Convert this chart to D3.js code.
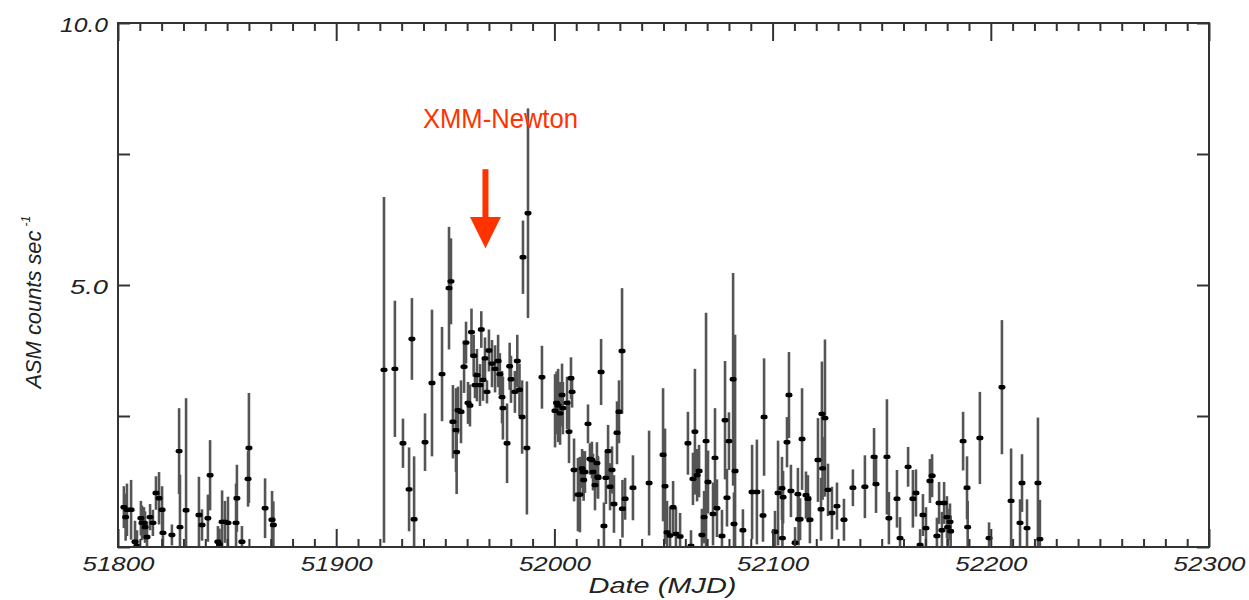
<!DOCTYPE html>
<html>
<head>
<meta charset="utf-8">
<script src="https://cdn.jsdelivr.net/npm/d3@7"></script>
<style>
  body { margin: 0; background: #fff; }
  text { font-family: "Liberation Sans", Arial, sans-serif; }
</style>
</head>
<body>
<svg id="chart"></svg>
<script>
// ASM light curve, MJD 51800-52300

const mjd = [
  51802.7, 51803.5, 51804.1, 51806.0, 51807.8, 51808.7, 51810.5, 51811.0, 51811.9, 51812.4,
  51813.3, 51814.7, 51816.0, 51817.4, 51818.8, 51820.2, 51820.6, 51824.7, 51828.0, 51828.4,
  51831.2, 51837.1, 51838.5, 51841.2, 51842.2, 51845.8, 51846.5, 51847.7, 51849.0, 51850.4,
  51854.1, 51854.5, 51856.8, 51859.6, 51860.0, 51867.4, 51870.6, 51871.2,
  51921.9, 51926.9, 51930.6, 51933.4, 51934.7, 51935.7, 51940.7, 51943.9, 51948.5, 51951.7,
  51952.6, 51953.5, 51954.9, 51955.2, 51955.8, 51957.2, 51958.6, 51960.4, 51961.3, 51963.6,
  51964.5, 51965.9, 51967.3, 51969.1, 51976.0, 51976.4, 51978.3, 51981.9, 51985.2, 51985.6,
  51987.4, 51987.9, 51994.3, 52000.3, 52001.0, 52001.7, 52002.6, 52003.5, 52003.9, 52005.8,
  52006.7, 52007.6, 52008.1, 52009.0, 52010.8,
  51959.5, 51962.0, 51963.0, 51966.5, 51968.2, 51970.0, 51971.4, 51972.8, 51974.2, 51975.0,
  51979.5, 51980.1, 51983.0, 51984.0,
  52011.7, 52012.7, 52013.1, 52013.4, 52014.0, 52015.4, 52016.3, 52017.2, 52017.7, 52018.6,
  52019.5, 52019.9, 52020.0, 52021.4, 52022.7, 52023.6, 52024.6, 52025.5, 52026.4, 52027.3,
  52028.7, 52029.6, 52031.0, 52031.2, 52032.4, 52036.0, 52043.4, 52049.8, 52050.7, 52051.6,
  52053.0, 52054.4, 52055.7, 52057.6, 52061.2, 52062.6, 52063.5, 52064.4, 52065.4, 52066.3,
  52067.6, 52068.6, 52069.5, 52070.4, 52072.7, 52073.6, 52074.5, 52076.8, 52078.2, 52079.1,
  52080.0, 52081.9, 52082.3, 52082.8, 52086.4, 52090.6, 52092.8,
  52095.6, 52096.1, 52101.1, 52102.5, 52104.3, 52104.5, 52104.8, 52106.6, 52107.5, 52108.4,
  52110.3, 52111.6, 52111.9, 52112.6, 52113.5, 52115.3, 52116.2, 52117.1, 52120.8, 52122.2,
  52122.6, 52122.9, 52124.0, 52125.4, 52127.2, 52129.5, 52132.7, 52136.8, 52142.3, 52146.5,
  52147.4, 52152.4, 52153.3, 52157.0, 52158.4, 52162.1, 52164.3, 52165.7, 52167.6, 52168.9,
  52170.3, 52172.1, 52173.1, 52175.3, 52176.3, 52177.6, 52178.6, 52179.9, 52180.2, 52181.3,
  52181.6, 52187.3, 52189.1, 52189.4, 52195.0, 52199.2, 52205.1, 52209.3, 52213.4, 52214.3,
  52216.6, 52221.6, 52222.5
];

const rate = [
  0.76, 0.57, 0.71, 0.71, 0.10, 0.02, 0.55, 0.46, 0.46, 0.38,
  0.19, 0.57, 0.46, 1.03, 0.93, 0.71, 0.27, 0.23, 1.83, 0.38,
  0.70, 0.61, 0.42, 0.55, 1.37, 0.10, 0.05, 0.48, 0.48, 0.46,
  0.46, 0.93, 0.10, 1.30, 1.89, 0.74, 0.52, 0.42,
  3.38, 3.40, 1.98, 1.10, 3.97, 0.53, 2.00, 3.13, 3.30, 4.94,
  5.07, 2.39, 2.23, 1.81, 2.61, 2.58, 3.44, 2.75, 2.70, 3.09,
  3.28, 3.09, 3.19, 2.96, 2.86, 2.65, 1.98, 2.96, 2.48, 5.53,
  1.89, 6.37, 3.24, 2.60, 2.75, 2.70, 2.55, 2.90, 2.65, 2.75,
  2.20, 3.22, 2.96, 1.47, 1.00,
  3.90, 4.10, 3.65, 4.15, 3.60, 3.75, 3.50, 3.40, 3.55, 3.30,
  3.45, 3.20, 3.55, 3.00,
  1.00, 1.50, 1.43, 1.28, 1.43, 2.35, 1.68, 1.66, 1.43, 1.18,
  1.60, 1.34, 1.32, 3.34, 0.40, 1.32, 1.83, 1.15, 1.47, 0.82,
  2.18, 2.58, 3.74, 0.73, 0.92, 1.13, 1.22, 1.76, 1.16, 0.28,
  0.22, 0.76, 0.25, 0.20, 1.98, 0.02, 1.30, 2.20, 1.37, 1.45,
  0.23, 0.57, 2.02, 1.24, 0.63, 1.70, 0.74, 0.21, 2.42, 0.94,
  2.02, 3.20, 0.44, 1.45, 0.32, 1.05, 1.05,
  0.60, 2.48, 0.29, 1.03, 1.12, 0.17, 0.95, 2.00, 2.90, 1.07,
  0.08, 1.01, 0.53, 0.53, 2.06, 0.99, 0.92, 0.52, 1.66, 0.72,
  2.54, 1.50, 2.46, 1.09, 0.65, 0.78, 0.52, 1.13, 1.15, 1.72,
  1.20, 1.72, 0.55, 0.92, 0.17, 1.53, 0.92, 1.03, 0.04, 0.61,
  0.36, 1.26, 1.36, 0.21, 0.84, 0.32, 0.84, 0.57, 0.38, 0.48,
  0.30, 2.02, 1.13, 0.38, 2.08, 0.17, 3.05, 0.88, 0.46, 1.22,
  0.36, 1.22, 0.15
];

const err = [
  0.40, 0.45, 0.50, 0.57, 0.40, 0.30, 0.33, 0.33, 0.30, 0.30,
  0.30, 0.25, 0.25, 0.32, 0.50, 0.45, 0.40, 0.20, 0.82, 1.00,
  2.14, 0.73, 0.30, 0.45, 0.67, 0.30, 0.30, 0.60, 0.40, 0.50,
  0.75, 0.64, 0.30, 0.53, 1.05, 0.57, 0.55, 0.45,
  3.30, 1.30, 0.47, 0.80, 0.78, 1.20, 0.55, 1.40, 0.90, 1.17,
  0.82, 0.70, 0.80, 0.80, 0.45, 0.60, 0.50, 0.40, 0.40, 0.25,
  0.50, 0.40, 0.40, 0.22, 0.50, 0.60, 0.76, 0.40, 0.70, 0.70,
  1.27, 2.00, 0.60, 0.70, 0.60, 0.70, 0.60, 0.60, 0.50, 0.50,
  0.60, 0.40, 0.30, 0.60, 0.70,
  0.40, 0.45, 0.40, 0.35, 0.40, 0.40, 0.45, 0.45, 0.50, 0.40,
  0.45, 0.45, 0.50, 0.50,
  0.72, 0.37, 0.40, 0.40, 0.40, 0.37, 0.30, 0.35, 0.35, 0.48,
  0.40, 0.40, 0.40, 0.63, 0.45, 0.50, 0.50, 0.45, 0.45, 0.55,
  0.60, 0.60, 1.20, 0.55, 0.40, 0.62, 1.00, 1.27, 1.10, 0.60,
  0.55, 0.50, 0.50, 0.45, 0.60, 0.30, 0.50, 1.20, 0.50, 0.50,
  0.50, 0.50, 2.45, 0.60, 0.60, 0.95, 0.55, 0.50, 1.13, 0.55,
  0.55, 2.03, 0.60, 2.60, 0.40, 0.90, 1.00,
  0.50, 1.12, 0.40, 1.00, 0.60, 0.40, 0.50, 0.48, 0.82, 0.50,
  0.30, 0.50, 0.50, 0.40, 0.97, 0.45, 0.45, 0.45, 0.80, 0.60,
  1.00, 0.60, 1.50, 0.50, 0.50, 0.45, 0.40, 0.35, 0.60, 0.55,
  0.55, 1.10, 0.50, 0.55, 0.40, 0.38, 0.55, 0.45, 0.30, 0.40,
  0.40, 0.42, 0.41, 0.35, 0.40, 0.35, 0.40, 0.40, 0.35, 0.35,
  0.30, 0.56, 0.60, 0.50, 0.88, 0.30, 1.28, 1.00, 0.45, 0.55,
  0.55, 1.25, 0.75
];

const xTickLabels = [51800, 51900, 52000, 52100, 52200, 52300];
const yTickLabels = [5, 10];
const yTicks = [0, 2.5, 5, 7.5, 10];

// XMM-Newton pointing
const xmmDate = 51968.4;
const xmmLabel = "XMM-Newton";

const width = 1249;
const height = 600;
const margin = { left: 118, right: 40, top: 23, bottom: 53 };
const innerWidth = width - margin.left - margin.right;
const innerHeight = height - margin.top - margin.bottom;

const svg = d3.select("#chart")
  .attr("width", width)
  .attr("height", height);

const g = svg.append("g")
  .attr("transform", `translate(${margin.left},${margin.top})`);

const x = d3.scaleLinear().domain([51800, 52300]).range([0, innerWidth]);
const y = d3.scaleLinear().domain([0, 10]).range([innerHeight, 0]);

g.append("clipPath").attr("id", "clip")
  .append("rect").attr("width", innerWidth).attr("height", innerHeight);

const data = mjd.map((d, i) => ({ t: d, v: rate[i], e: err[i] }));

const plot = g.append("g").attr("clip-path", "url(#clip)");

plot.selectAll("line.err")
  .data(data)
  .enter()
  .append("line")
  .attr("class", "err")
  .attr("x1", d => x(d.t))
  .attr("x2", d => x(d.t))
  .attr("y1", d => y(d.v - d.e))
  .attr("y2", d => y(d.v + d.e))
  .attr("stroke", "#555")
  .attr("stroke-width", 2.6);

plot.selectAll("rect.pt")
  .data(data)
  .enter()
  .append("rect")
  .attr("class", "pt")
  .attr("x", d => x(d.t) - 3.5)
  .attr("y", d => y(d.v) - 2.2)
  .attr("width", 7)
  .attr("height", 4.4)
  .attr("rx", 1.8)
  .attr("fill", "#000");

// axes: minor ticks every 10 days, major every 100
const minorX = d3.range(51810, 52300, 10).filter(d => d % 100 !== 0);

function tickAxis(axis) {
  return sel => {
    sel.call(axis);
    sel.select(".domain").remove();
    sel.selectAll(".tick line").attr("stroke", "#333").attr("stroke-width", 2);
    sel.selectAll(".tick text").filter(function () { return this.textContent === ""; }).remove();
  };
}

g.append("g").attr("transform", `translate(0,${innerHeight})`)
  .call(tickAxis(d3.axisBottom(x).tickValues(minorX).tickSize(-8).tickFormat("")));
g.append("g")
  .call(tickAxis(d3.axisTop(x).tickValues(minorX).tickSize(-8).tickFormat("")));

const xAxis = g.append("g").attr("transform", `translate(0,${innerHeight})`)
  .call(tickAxis(d3.axisBottom(x).tickValues(xTickLabels).tickSize(-18).tickPadding(9).tickFormat(d3.format("d"))));
xAxis.selectAll("text")
  .attr("fill", "#222")
  .attr("font-size", 21)
  .attr("font-style", "italic")
  .attr("textLength", 72)
  .attr("lengthAdjust", "spacingAndGlyphs");

g.append("g")
  .call(tickAxis(d3.axisTop(x).tickValues(xTickLabels).tickSize(-18).tickFormat("")));

const yAxis = g.append("g")
  .call(tickAxis(d3.axisLeft(y).tickValues(yTicks).tickSize(-12).tickPadding(10)
    .tickFormat(d => yTickLabels.includes(d) ? d3.format(".1f")(d) : "")));
yAxis.selectAll("text")
  .attr("fill", "#222")
  .attr("font-size", 20)
  .attr("font-style", "italic")
  .attr("dy", "0.42em")
  .attr("textLength", d => d >= 10 ? 48 : 38)
  .attr("lengthAdjust", "spacingAndGlyphs");

g.append("g").attr("transform", `translate(${innerWidth},0)`)
  .call(tickAxis(d3.axisRight(y).tickValues(yTicks).tickSize(-12).tickFormat("")));

// frame
g.append("rect")
  .attr("width", innerWidth)
  .attr("height", innerHeight)
  .attr("fill", "none")
  .attr("stroke", "#333")
  .attr("stroke-width", 2);

// axis titles
g.append("text")
  .attr("x", innerWidth / 2 - 1)
  .attr("y", innerHeight + 46)
  .attr("text-anchor", "middle")
  .attr("font-size", 22)
  .attr("font-style", "italic")
  .attr("fill", "#222")
  .attr("textLength", 148)
  .attr("lengthAdjust", "spacingAndGlyphs")
  .text("Date (MJD)");

const yt = g.append("text")
  .attr("transform", `translate(${-77},${y(4.55)}) rotate(-90)`)
  .attr("font-size", 22)
  .attr("font-style", "italic")
  .attr("fill", "#222");
yt.append("tspan")
  .attr("x", -80)
  .attr("textLength", 158)
  .attr("lengthAdjust", "spacingAndGlyphs")
  .text("ASM counts sec");
yt.append("tspan").attr("font-size", 12).attr("dx", 4).attr("dy", -11).text("-1");

// annotation
const red = "#ff3300";
g.append("text")
  .attr("x", x(xmmDate) + 15)
  .attr("y", y(8.0))
  .attr("text-anchor", "middle")
  .attr("font-size", 27)
  .attr("fill", red)
  .attr("textLength", 155)
  .attr("lengthAdjust", "spacingAndGlyphs")
  .text(xmmLabel);

g.append("line")
  .attr("x1", x(xmmDate)).attr("x2", x(xmmDate))
  .attr("y1", y(7.21)).attr("y2", y(6.22))
  .attr("stroke", red)
  .attr("stroke-width", 6);

g.append("path")
  .attr("d", `M${x(xmmDate) - 15.5},${y(6.3)} L${x(xmmDate) + 15.5},${y(6.3)} L${x(xmmDate)},${y(5.7)} Z`)
  .attr("fill", red);
</script>
</body>
</html>
